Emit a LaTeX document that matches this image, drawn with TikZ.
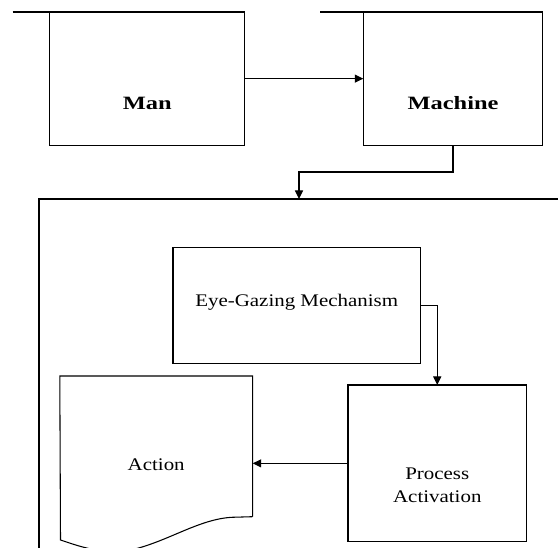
\documentclass[tikz,border=0pt]{standalone}
\usepackage{fontspec}
\setmainfont{Liberation Serif}[FakeStretch=1.18]
\newfontfamily\bigboldfont{Liberation Serif}[FakeStretch=1.3]
\usetikzlibrary{arrows.meta,fit}
\begin{document}
\begin{tikzpicture}[x=0.75pt,y=-0.75pt,
  box/.style={draw, line width=0.8pt, inner sep=0pt, outer sep=0pt},
  ghost/.style={inner sep=0pt, outer sep=0pt},
  conn/.style={line width=0.8pt},
  arr/.style={conn, -{Triangle[length=6.4pt,width=6pt]}},
  topline/.style={line width=1.3pt},
  lbl/.style={inner sep=0pt, anchor=base, font=\fontsize{13.3pt}{16pt}\selectfont},
  blbl/.style={inner sep=0pt, anchor=base, font=\bigboldfont\bfseries\fontsize{14.1pt}{17pt}\selectfont}]
\useasboundingbox (0,0) rectangle (558,548);
\clip (0,0) rectangle (558,548);
% boxes
\node[box, fit={(49.8,12) (244.5,145.3)}] (man) {};
\node[box, fit={(363.3,12) (542.7,145.3)}] (machine) {};
\node[box, fit={(173,247.7) (420.3,363.7)}] (eye) {};
\node[box, fit={(348,385) (526.5,541.7)}] (process) {};
\node[ghost, fit={(59.8,376) (252.7,516.7)}] (action) {};
% top lines
\coordinate (mantl) at (12.5,12);
\coordinate (machtl) at (320.3,12);
\draw[topline] (mantl) -- (man.north east);
\draw[topline] (machtl) -- (machine.north east);
% outer frame
\coordinate (outtop) at (299,199);
\draw[conn] (570,199) -- (39,199) -- (39,560);
% document shape
\draw[conn] (action.south east) -- (action.north east) -- (action.north west) -- (60.5,540)
  .. controls (80,546.5) and (105,556) .. (135,549)
  .. controls (170,540) and (200,519) .. (232,517.3) -- (action.south east);
% texts
\node[blbl] (mant) at (147.3,109.5) {Man};
\node[blbl] (macht) at (453,109.5) {Machine};
\node[lbl] (eyet) at (296.7,306.7) {Eye-Gazing Mechanism};
\node[lbl] (actt) at (156.2,471) {Action};
\node[lbl] (proct) at (437.3,479.3) {Process};
\node[lbl] (actvt) at (437.3,502.7) {Activation};
% connectors
\draw[arr] (man.east) -- (machine.west);
\draw[arr] (machine.south) -- ++(0,26.7) -| (outtop);
\draw[arr] (eye.east) -| (process.north);
\draw[arr] (process.west) -- (action.east |- process.west);
\end{tikzpicture}
\end{document}
